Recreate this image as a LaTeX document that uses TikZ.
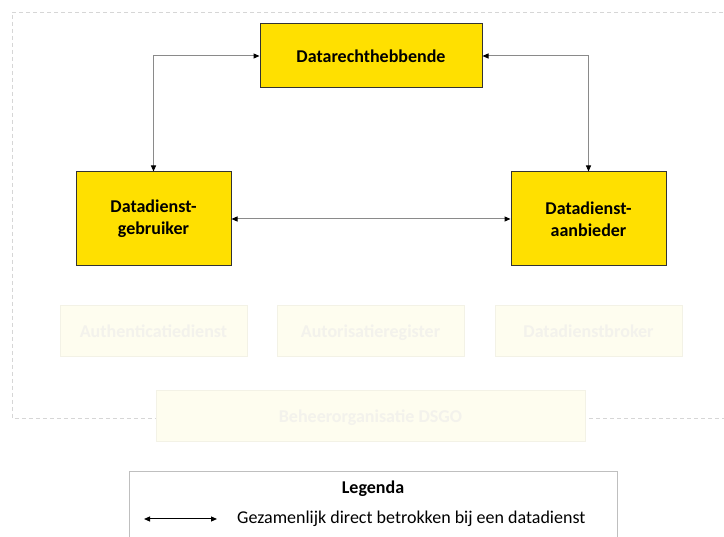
\documentclass[tikz,border=0pt]{standalone}
\usepackage{fontspec}
\setmainfont{Carlito}
\usepackage{tikz}
\usetikzlibrary{arrows.meta}
\usetikzlibrary{positioning}

\definecolor{dsgoyellow}{HTML}{FFE000}
\definecolor{fadefill}{HTML}{FEFDEF}
\definecolor{fadeline}{HTML}{F3F2E6}
\definecolor{fadetext}{HTML}{F3F2EC}
\definecolor{linkgray}{HTML}{8A8A8A}

\tikzset{
  role/.style={rectangle, draw=black!80, fill=dsgoyellow, line width=1pt, align=center,
    font=\fontsize{18}{22}\selectfont\bfseries, inner sep=0pt},
  faded/.style={rectangle, draw=fadeline, fill=fadefill, line width=1pt,
    text=fadetext, font=\fontsize{18}{22}\selectfont\bfseries, inner sep=0pt,
    minimum height=51pt, text height=14.5pt, text depth=1.5pt},
  link/.style={draw=linkgray, line width=1pt,
    {Triangle[black, length=6pt, width=5pt]}-{Triangle[black, length=6pt, width=5pt]}}
}

\begin{document}
\begin{tikzpicture}[x=1pt, y=-1pt]
\useasboundingbox (0, 0) rectangle (724, 537);
% omkadering
\draw [draw=black!16, dash pattern=on 4pt off 3pt, line width=0.8pt] (730, 12) -- (12, 12) -- (12, 418) -- (730, 418);

\node [role, minimum width=222pt, minimum height=64pt] (recht) at (371, 56) {Datarechthebbende};
\node [role, minimum width=155pt, minimum height=94pt] (gebruiker) at (153.5, 219) {Datadienst-\\gebruiker};
\node [role, minimum width=155pt, minimum height=94pt] (aanbieder) at (588.5, 219) {Datadienst-\\aanbieder};

\node [faded, minimum width=187pt] (authn) at (153.5, 331.5) {Authenticatiedienst};
\node [faded, minimum width=187pt] (autor) at (370.5, 331.5) {Autorisatieregister};
\node [faded, minimum width=187pt] (broker) at (588.5, 331.5) {Datadienstbroker};
\node [faded, minimum width=429pt] (beheer) at (370.5, 416.5) {Beheerorganisatie DSGO};

\draw [link] (gebruiker.north) |- (recht.west);
\draw [link] (aanbieder.north) |- (recht.east);
\draw [link] (gebruiker.east) -- (aanbieder.west);

% legenda
\node [rectangle, draw=black!25, line width=1pt, minimum width=488pt, minimum height=73pt, inner sep=0pt] (legenda) at (373, 508.5) {};
\node [font=\fontsize{18}{22}\selectfont\bfseries] (legtitel) at (373, 489) {Legenda};
\coordinate (legA) at (144, 519);
\coordinate (legB) at (217, 519);
\draw [link, draw=black] (legA) -- (legB);
\node [anchor=west, inner sep=0pt, font=\fontsize{18}{22}\selectfont] (legtekst) at (237, 519) {Gezamenlijk direct betrokken bij een datadienst};
\end{tikzpicture}
\end{document}
